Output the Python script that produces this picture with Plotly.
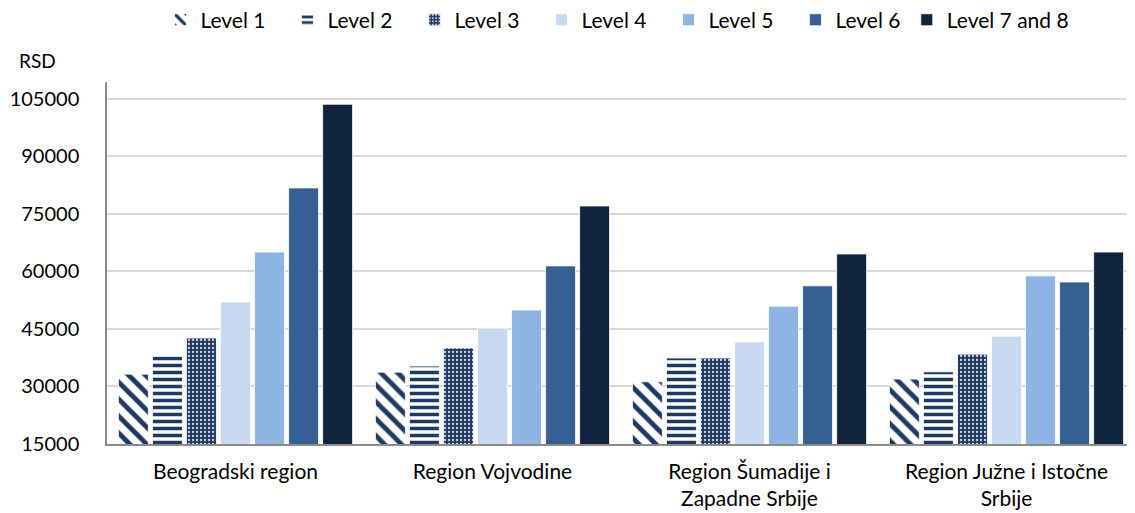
import plotly.graph_objects as go

regions = ["Beogradski region", "Region Vojvodine", "Region Šumadije i<br>Zapadne Srbije", "Region Južne i Istočne<br>Srbije"]
series_names = ["Level 1", "Level 2", "Level 3", "Level 4", "Level 5", "Level 6", "Level 7 and 8"]
level1 = [33200, 33700, 31200, 31900]
level2 = [37900, 35300, 37400, 33800]
level3 = [42600, 40000, 37400, 38400]
level4 = [52000, 45200, 41600, 43100]
level5 = [65000, 49900, 50900, 58800]
level6 = [81700, 61400, 56200, 57200]
level78 = [103500, 77000, 64500, 65000]
y_ticks = [15000, 30000, 45000, 60000, 75000, 90000, 105000]

values = [level1, level2, level3, level4, level5, level6, level78]

navy = "#1F3A60"
styles = [
    dict(color="white", pattern=dict(shape="\\", fgcolor=navy, bgcolor="white", size=12, solidity=0.4, fgopacity=1, fillmode="overlay")),
    dict(color="white", pattern=dict(shape="-", fgcolor=navy, bgcolor="white", size=7, solidity=0.5, fgopacity=1, fillmode="overlay")),
    dict(color=navy, pattern=dict(shape=".", fgcolor="#D0D8E6", bgcolor=navy, size=4, solidity=0.25, fgopacity=1, fillmode="overlay")),
    dict(color="#C6D9F1"),
    dict(color="#8EB4E3"),
    dict(color="#376092"),
    dict(color="#10243E"),
]

fig = go.Figure()
for i, (name, vals, st) in enumerate(zip(series_names, values, styles)):
    marker = dict(st)
    marker["line"] = dict(color="white", width=0.8)
    fig.add_trace(go.Bar(x=regions, y=vals, name=name, marker=marker,
                         legend="legend2" if i == len(series_names) - 1 else "legend"))

font_family = "Lato, Open Sans, sans-serif"
# the page body has an 8px margin, so the figure is sized/offset to compensate
fig.update_layout(
    width=1127, height=505,
    paper_bgcolor="white", plot_bgcolor="white",
    margin=dict(l=99, r=0, t=74, b=69, autoexpand=False),
    barmode="group", bargap=0.073, bargroupgap=0.12,
    font=dict(family=font_family, size=20, color="#000000"),
    legend=dict(orientation="h", x=0.052, xanchor="left", y=1.171, yanchor="middle",
                font=dict(size=21), entrywidth=82, entrywidthmode="pixels",
                itemwidth=30, traceorder="normal", bgcolor="rgba(0,0,0,0)"),
    legend2=dict(orientation="h", x=0.778, xanchor="left", y=1.171, yanchor="middle",
                 font=dict(size=21), itemwidth=30, bgcolor="rgba(0,0,0,0)"),
    showlegend=True,
)
fig.update_xaxes(showline=True, linecolor="#8C8C8C", linewidth=1.5, ticks="",
                 tickfont=dict(size=21), showgrid=False, ticklabelstandoff=8)
fig.update_yaxes(range=[15000, 109300], tickvals=y_ticks, ticktext=[str(v) for v in y_ticks],
                 showgrid=True, gridcolor="#D9D9D9", gridwidth=1.5,
                 showline=True, linecolor="#8C8C8C", linewidth=1.5,
                 ticks="", tickfont=dict(size=20), zeroline=False, ticklabelstandoff=22)
fig.add_annotation(text="RSD", xref="paper", yref="paper", x=-0.088, y=1.06,
                   xanchor="left", yanchor="middle", showarrow=False, font=dict(size=19))

fig.write_html("out.html")
